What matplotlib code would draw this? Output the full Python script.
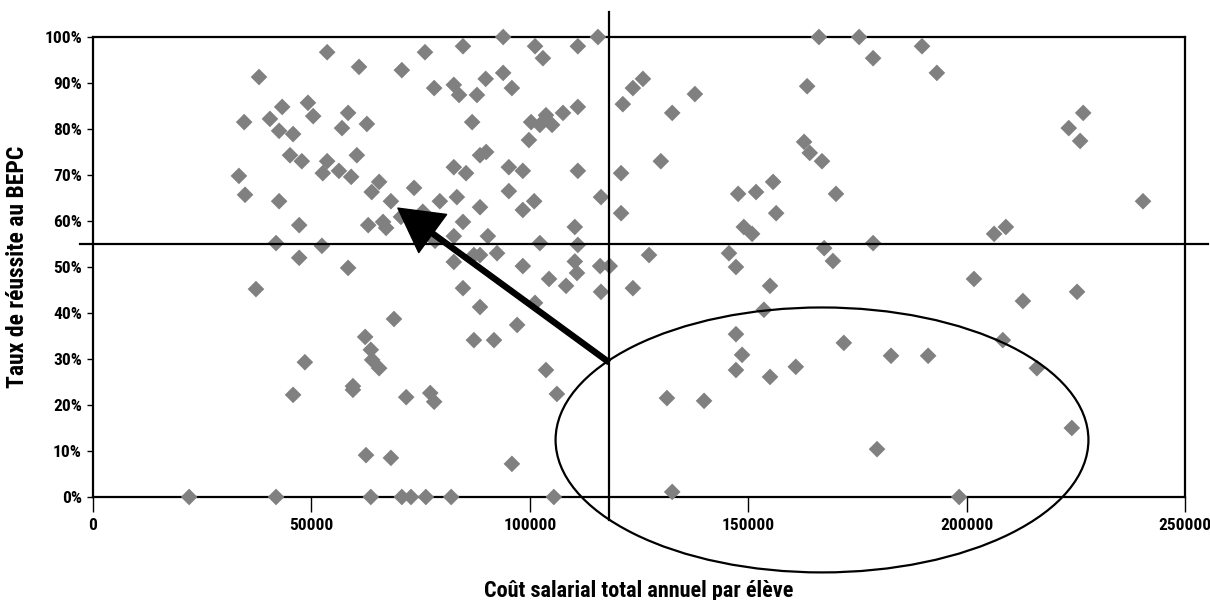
#!/usr/bin/env python3
"""Scatter of BEPC success rate vs annual salary cost per pupil."""
import matplotlib
matplotlib.use("Agg")
import matplotlib.pyplot as plt
from matplotlib import font_manager
from matplotlib.patches import Ellipse
from matplotlib.ticker import PercentFormatter

# cost per pupil (x) and success rate in % (y)
cost = [
    53600, 60900, 38000, 43300, 49200, 40500, 34600, 50400, 58400, 57000,
    62700, 42600, 45800, 45100, 47800, 53600, 52600, 56300, 59100, 60400,
    33400, 34800, 42600, 47200, 63800, 63000, 41900, 52400, 47200, 58400,
    93900, 115600, 84700, 101200, 111000, 103000, 76000, 70700, 78100, 82600,
    83800, 87900, 89900, 93900, 95900, 123600, 125900, 121300, 86800, 100300,
    102300, 103700, 105100, 107600, 111000, 99800, 88600, 90000, 82600, 85400,
    95200, 98400, 111000, 120900, 65500, 73500, 68200, 79400, 83300, 95200,
    101000, 98400, 88600, 116300, 120900, 66400, 67100, 70500, 75500, 84700,
    82600, 90400, 78300, 110300, 102300, 111000, 87200, 88600, 82600, 92500,
    98400, 110300, 116100, 118300,
    104400, 108300, 110800, 116300, 123600, 84700, 101200, 88600, 97100, 68900,
    62300, 87200, 91800, 63600, 63900, 65500, 103700, 106200, 71700, 77200,
    78100, 62500, 68200, 95900, 63600, 70700, 72800, 76200, 82000, 105500,
    37300, 48500, 45800, 59500, 59500, 22000, 41900,
    166200, 175400, 178600, 163500, 137800, 132600, 130000, 162800, 164100, 166900,
    155700, 147700, 151800, 170100, 156400, 149000, 150900, 167400, 169400, 178600,
    145600, 147200, 127300,
    155000, 153600, 147200, 148600, 147200, 155000, 160900, 171900, 182700, 131400,
    139900, 179500, 132600,
    201700, 212900, 225300, 208300, 191200, 216100, 224100, 198300,
    189800, 193200, 226700, 223400, 226000, 240400, 206300, 209000,
]
success = [
    96.7, 93.5, 91.3, 84.8, 85.7, 82.2, 81.5, 82.8, 83.5, 80.2,
    81.1, 79.6, 78.9, 74.3, 73.0, 73.0, 70.4, 70.9, 69.6, 74.3,
    69.8, 65.7, 64.3, 59.1, 66.3, 59.1, 55.2, 54.6, 52.0, 49.8,
    100.0, 100.0, 98.0, 98.0, 98.0, 95.4, 96.7, 92.8, 88.9, 89.6,
    87.4, 87.4, 90.9, 92.2, 88.9, 88.9, 90.9, 85.4, 81.5, 81.5,
    80.9, 83.0, 80.9, 83.5, 84.8, 77.6, 74.3, 75.0, 71.7, 70.4,
    71.7, 70.9, 70.9, 70.4, 68.5, 67.2, 64.3, 64.3, 65.2, 66.5,
    64.3, 62.4, 63.0, 65.2, 61.7, 59.8, 58.5, 60.9, 62.0, 59.8,
    56.7, 56.7, 55.7, 58.7, 55.2, 54.8, 52.6, 52.6, 51.1, 53.0,
    50.2, 51.2, 50.2, 50.2,
    47.4, 45.9, 48.7, 44.6, 45.4, 45.4, 42.2, 41.3, 37.4, 38.7,
    34.8, 34.1, 34.1, 32.0, 29.8, 28.0, 27.6, 22.4, 21.7, 22.6,
    20.7, 9.1, 8.5, 7.2, 0.0, 0.0, 0.0, 0.0, 0.0, 0.0,
    45.2, 29.3, 22.2, 24.1, 23.3, 0.0, 0.0,
    100.0, 100.0, 95.4, 89.3, 87.6, 83.5, 73.0, 77.2, 74.8, 73.0,
    68.5, 65.9, 66.3, 65.9, 61.7, 58.7, 57.2, 54.1, 51.3, 55.2,
    53.0, 50.0, 52.6,
    45.9, 40.7, 35.4, 30.9, 27.6, 26.1, 28.3, 33.5, 30.7, 21.5,
    20.9, 10.4, 1.1,
    47.4, 42.6, 44.6, 34.1, 30.7, 28.0, 15.0, 0.0,
    98.0, 92.2, 83.5, 80.2, 77.4, 64.3, 57.2, 58.7,
]

x_ticks = [0, 50000, 100000, 150000, 200000, 250000]
y_ticks = [0, 10, 20, 30, 40, 50, 60, 70, 80, 90, 100]

# reference lines (average cost, success threshold)
ref_cost = 118100
ref_success = 55

# highlighted zone and arrow
zone_center = (166900, 12.4)
zone_size = (122000, 57.6)
arrow_from = (118100, 29.3)
arrow_to = (69800, 62.8)


def pick_font():
    names = {f.name for f in font_manager.fontManager.ttflist}
    for fam in ["Liberation Sans Narrow", "Roboto Condensed", "Liberation Sans"]:
        if fam in names:
            return fam
    return "DejaVu Sans"


def main():
    plt.rcParams["font.family"] = [pick_font(), "DejaVu Sans"]
    plt.rcParams["font.weight"] = "bold"

    fig = plt.figure(figsize=(12.1, 6.0), dpi=100)
    ax = fig.add_axes([0.0769, 0.1717, 0.9024, 0.7666])

    ax.scatter(cost, success, marker="D", s=72, color="#808080",
               edgecolors="none", zorder=3, clip_on=False)

    ax.set_xlim(0, 250000)
    ax.set_ylim(0, 100)
    ax.set_xticks(x_ticks)
    ax.set_yticks(y_ticks)
    ax.yaxis.set_major_formatter(PercentFormatter(xmax=100, decimals=0))
    ax.tick_params(axis="both", direction="out", width=1, labelsize=12.5,
                   color="black")
    ax.tick_params(axis="y", length=4, pad=4)
    ax.tick_params(axis="x", length=11, pad=4)
    for lab in ax.get_xticklabels() + ax.get_yticklabels():
        lab.set_fontweight("bold")
    for sp in ax.spines.values():
        sp.set_linewidth(1.6)
        sp.set_color("black")

    ax.axvline(ref_cost, ymin=-0.05, ymax=1.054, color="black", lw=1.6,
               clip_on=False, zorder=4)
    ax.axhline(ref_success, xmin=-0.012, xmax=1.021, color="black", lw=1.6,
               clip_on=False, zorder=4)

    ax.add_patch(Ellipse(zone_center, zone_size[0], zone_size[1],
                         fill=False, edgecolor="black", lw=1.6,
                         clip_on=False, zorder=5))
    ax.annotate("", xy=arrow_to, xytext=arrow_from, annotation_clip=False,
                arrowprops=dict(width=3.6, headwidth=34, headlength=31,
                                facecolor="black", edgecolor="black",
                                shrink=0), zorder=6)

    ax.set_ylabel("Taux de réussite au BEPC", fontsize=17, fontweight="bold")
    ax.yaxis.set_label_coords(-0.059, 0.5)
    ax.set_xlabel("Coût salarial total annuel par élève", fontsize=16,
                  fontweight="bold")
    ax.xaxis.set_label_coords(0.5, -0.18)

    fig.savefig("out.png", dpi=100)


if __name__ == "__main__":
    main()
